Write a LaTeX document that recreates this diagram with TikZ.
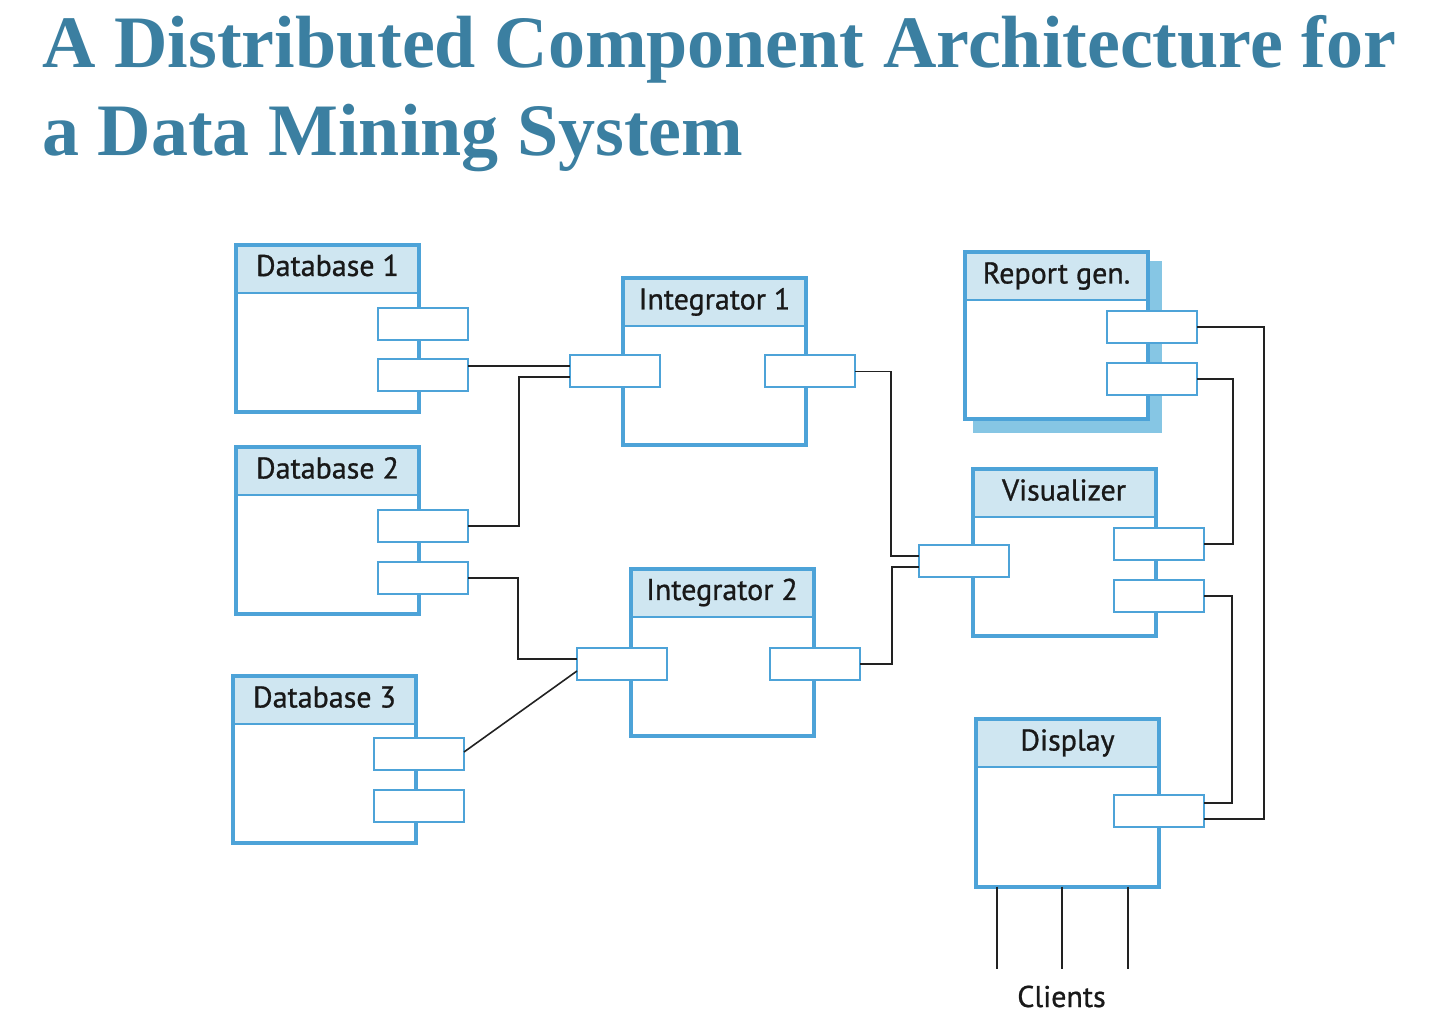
\documentclass[tikz,border=0pt]{standalone}
\usepackage{fontspec}
\setmainfont{PT Sans}
\newfontfamily\labfont[FakeBold=0.9]{PT Sans}
\newfontfamily\titlefont{Liberation Serif}
\definecolor{cblue}{HTML}{4DA3D8}
\definecolor{hdrblue}{HTML}{CFE6F1}
\definecolor{shadowblue}{HTML}{86C6E4}
\definecolor{titleblue}{HTML}{3B7FA1}
\definecolor{wire}{HTML}{222222}
\tikzset{
  comp/.style={draw=cblue, line width=2pt, fill=white, minimum width=91.5pt,
    minimum height=83.5pt, inner sep=0pt, outer sep=0pt,
    path picture={
      \fill[hdrblue] (path picture bounding box.north west) rectangle
        ([yshift=-24pt]path picture bounding box.north east);
      \draw[cblue, line width=1pt] ([yshift=-24pt]path picture bounding box.north west) --
        ([yshift=-24pt]path picture bounding box.north east);}},
  complabel/.style={font=\labfont\fontsize{15}{18}\selectfont, text=black!90, anchor=base, yshift=-15.5pt},
  port/.style={draw=cblue, line width=1pt, fill=white, minimum width=45pt,
    minimum height=16pt, inner sep=0pt, outer sep=0pt},
  shadowbox/.style={fill=shadowblue, minimum width=94.5pt, minimum height=86pt, inner sep=0pt, outer sep=0pt},
  conn/.style={draw=wire, line width=0.8pt},
  titletext/.style={font=\titlefont\bfseries\fontsize{37}{43}\selectfont, text=titleblue, anchor=base west, inner sep=0pt}
}
\begin{document}
\begin{tikzpicture}[x=0.5pt, y=-0.5pt]
\useasboundingbox (0,0) rectangle (1446,1020);

% title
\node[titletext] (title1) at (42,68) {A Distributed Component Architecture for};
\node[titletext] (title2) at (42,156) {a Data Mining System};

% components
\node[comp, label={[complabel, name=db1l]north:Database 1}] (db1) at (327.5,328.5) {};
\node[comp, label={[complabel, name=db2l]north:Database 2}] (db2) at (327.5,531) {};
\node[comp, label={[complabel, name=db3l]north:Database 3}] (db3) at (324.5,760) {};
\node[comp, label={[complabel, name=i1l-t]north:Integrator 1}] (int1) at (714.5,362) {};
\node[comp, label={[complabel, name=i2l-t]north:Integrator 2}] (int2) at (722,652.5) {};
\node[shadowbox] (rshadow) at (1067.5,347) {};
\node[comp, label={[complabel, name=rgl]north:Report gen.}] (rep) at (1056.5,336) {};
\node[comp, label={[complabel, name=visl-t]north:Visualizer}] (vis) at (1064,553) {};
\node[comp, label={[complabel, name=dispt]north:Display}] (disp) at (1067.5,803) {};

% ports
\node[port] (db1p1) at (423,324) {};
\node[port] (db1p2) at (423,375) {};
\node[port] (db2p1) at (423,526) {};
\node[port] (db2p2) at (423,578) {};
\node[port] (db3p1) at (419,754) {};
\node[port] (db3p2) at (419,806) {};
\node[port] (i1l) at (615,371.5) {};
\node[port] (i1r) at (810,371.5) {};
\node[port] (i2l) at (622,664) {};
\node[port] (i2r) at (815,664) {};
\node[port] (rp1) at (1152,327) {};
\node[port] (rp2) at (1152,379) {};
\node[port] (visl) at (964,561) {};
\node[port] (visr1) at (1159,544) {};
\node[port] (visr2) at (1159,596) {};
\node[port] (dp) at (1159,811) {};

% connectors
\draw[conn] ([yshift=4.5pt]db1p2.east) -- ([yshift=4.5pt]db1p2.east -| i1l.west);
\draw[conn] (db2p1.east) -- ++(51,0) |- ([yshift=-2.75pt]i1l.west);
\draw[conn] (db2p2.east) -- ++(50,0) |- ([yshift=2.5pt]i2l.west);
\draw[conn] ([yshift=1pt]db3p1.east) -- ([yshift=-3.5pt]i2l.west);
\draw[conn] (i1r.east) -- ++(36,0) |- ([yshift=2.5pt]visl.west);
\draw[conn] (i2r.east) -- ++(32,0) |- ([yshift=-3pt]visl.west);
\draw[conn] (rp1.east) -- ++(67,0) |- ([yshift=-4pt]dp.east);
\draw[conn] (rp2.east) -- ++(36,0) |- (visr1.east);
\draw[conn] (visr2.east) -- ++(28,0) |- ([yshift=4pt]dp.east);

% clients
\coordinate (c1) at (997,969);
\coordinate (c2) at (1062,969);
\coordinate (c3) at (1128,969);
\draw[conn] (disp.south -| c1) -- (c1);
\draw[conn] (disp.south -| c2) -- (c2);
\draw[conn] (disp.south -| c3) -- (c3);
\node[font=\labfont\fontsize{15}{18}\selectfont, text=black!90, anchor=base, inner sep=0pt] (clients) at (1061.5,1007) {Clients};
\end{tikzpicture}
\end{document}
